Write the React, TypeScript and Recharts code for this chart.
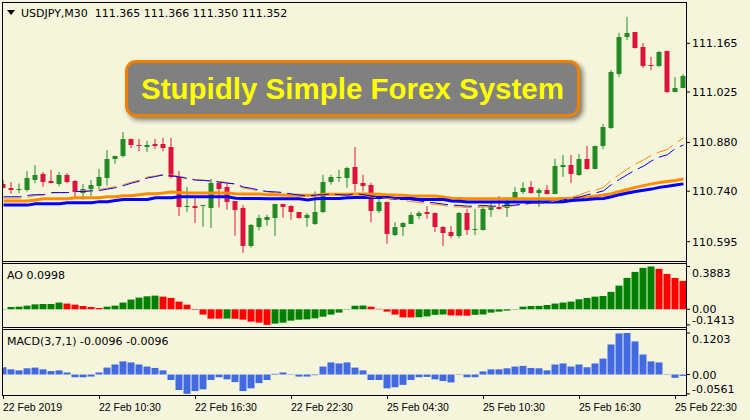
import React from "react";
import { ComposedChart, BarChart, Bar, Line, XAxis, YAxis, Cell } from "recharts";

/* ---------------- DATA ---------------- */

const candleOpen = [
  110.761, 110.750, 110.746, 110.744, 110.773, 110.789, 110.769, 110.762, 110.787, 110.769,
  110.734, 110.747, 110.756, 110.779, 110.831, 110.841, 110.890, 110.872, 110.867, 110.876,
  110.876, 110.867, 110.780, 110.697, 110.698, 110.698, 110.693, 110.764, 110.752, 110.712,
  110.692, 110.583, 110.638, 110.658, 110.664, 110.703, 110.697, 110.680, 110.664, 110.646,
  110.680, 110.767, 110.780, 110.778, 110.810, 110.764, 110.758, 110.683, 110.709, 110.614,
  110.637, 110.646, 110.669, 110.680, 110.677, 110.637, 110.623, 110.611, 110.677, 110.631,
  110.628, 110.686, 110.695, 110.692, 110.718, 110.738, 110.752, 110.735, 110.743, 110.732,
  110.810, 110.815, 110.787, 110.833, 110.804, 110.870, 110.922, 111.077, 111.183, 111.197,
  111.154, 111.104, 111.100, 111.143, 111.025, 111.037
];

const candleHigh = [
  110.772, 110.766, 110.762, 110.798, 110.815, 110.795, 110.801, 110.795, 110.792, 110.772,
  110.761, 110.772, 110.804, 110.858, 110.842, 110.910, 110.891, 110.890, 110.885, 110.890,
  110.893, 110.893, 110.798, 110.752, 110.720, 110.700, 110.775, 110.765, 110.762, 110.712,
  110.700, 110.646, 110.672, 110.672, 110.704, 110.704, 110.700, 110.681, 110.677, 110.739,
  110.787, 110.787, 110.801, 110.810, 110.867, 110.787, 110.764, 110.718, 110.710, 110.651,
  110.651, 110.679, 110.683, 110.697, 110.679, 110.640, 110.640, 110.680, 110.689, 110.689,
  110.697, 110.709, 110.726, 110.723, 110.752, 110.766, 110.769, 110.749, 110.758, 110.833,
  110.844, 110.844, 110.847, 110.870, 110.871, 110.933, 111.088, 111.195, 111.241, 111.198,
  111.166, 111.126, 111.143, 111.144, 111.068, 111.077
];

const candleLow = [
  110.748, 110.733, 110.734, 110.739, 110.763, 110.753, 110.762, 110.754, 110.763, 110.722,
  110.716, 110.727, 110.745, 110.756, 110.819, 110.837, 110.864, 110.855, 110.853, 110.861,
  110.855, 110.777, 110.669, 110.681, 110.649, 110.638, 110.634, 110.693, 110.687, 110.612,
  110.563, 110.578, 110.628, 110.641, 110.612, 110.664, 110.658, 110.661, 110.638, 110.643,
  110.677, 110.759, 110.767, 110.750, 110.739, 110.739, 110.651, 110.677, 110.589, 110.611,
  110.612, 110.645, 110.660, 110.661, 110.623, 110.583, 110.605, 110.605, 110.614, 110.614,
  110.627, 110.666, 110.687, 110.666, 110.706, 110.732, 110.732, 110.695, 110.730, 110.731,
  110.781, 110.764, 110.784, 110.802, 110.803, 110.861, 110.919, 111.068, 111.174, 111.150,
  111.094, 111.088, 111.097, 111.022, 111.024, 111.036
];

const candleClose = [
  110.750, 110.744, 110.747, 110.779, 110.787, 110.767, 110.764, 110.787, 110.766, 110.736,
  110.746, 110.758, 110.781, 110.833, 110.841, 110.890, 110.874, 110.871, 110.873, 110.870,
  110.864, 110.780, 110.695, 110.698, 110.693, 110.699, 110.764, 110.746, 110.710, 110.687,
  110.583, 110.643, 110.663, 110.666, 110.703, 110.693, 110.681, 110.663, 110.672, 110.680,
  110.766, 110.781, 110.781, 110.807, 110.761, 110.755, 110.683, 110.709, 110.617, 110.637,
  110.649, 110.672, 110.677, 110.674, 110.637, 110.620, 110.611, 110.677, 110.628, 110.632,
  110.689, 110.695, 110.689, 110.709, 110.738, 110.749, 110.735, 110.743, 110.732, 110.812,
  110.815, 110.789, 110.833, 110.804, 110.870, 110.924, 111.083, 111.183, 111.195, 111.151,
  111.100, 111.101, 111.140, 111.025, 111.037, 111.071
];

// slow moving averages (thick)
const slowBlue = [
  110.700, 110.700, 110.700, 110.700, 110.704, 110.704, 110.704, 110.704, 110.707, 110.707,
  110.707, 110.707, 110.710, 110.710, 110.713, 110.716, 110.716, 110.716, 110.716, 110.721,
  110.721, 110.721, 110.724, 110.724, 110.724, 110.724, 110.724, 110.724, 110.724, 110.720,
  110.719, 110.719, 110.719, 110.718, 110.718, 110.718, 110.718, 110.718, 110.715, 110.718,
  110.719, 110.719, 110.719, 110.721, 110.722, 110.722, 110.722, 110.722, 110.722, 110.719,
  110.719, 110.719, 110.716, 110.716, 110.716, 110.716, 110.712, 110.711, 110.709, 110.709,
  110.709, 110.709, 110.709, 110.709, 110.709, 110.709, 110.709, 110.709, 110.709, 110.709,
  110.710, 110.713, 110.715, 110.716, 110.718, 110.719, 110.724, 110.730, 110.735, 110.739,
  110.743, 110.746, 110.751, 110.754, 110.758, 110.761
];

const slowOrange = [
  110.712, 110.712, 110.712, 110.712, 110.715, 110.718, 110.718, 110.718, 110.718, 110.721,
  110.721, 110.721, 110.721, 110.724, 110.724, 110.727, 110.727, 110.730, 110.733, 110.733,
  110.735, 110.738, 110.736, 110.735, 110.735, 110.735, 110.735, 110.735, 110.735, 110.733,
  110.732, 110.732, 110.732, 110.730, 110.730, 110.729, 110.728, 110.728, 110.728, 110.728,
  110.731, 110.731, 110.731, 110.731, 110.732, 110.732, 110.732, 110.731, 110.729, 110.729,
  110.728, 110.726, 110.726, 110.726, 110.726, 110.723, 110.720, 110.719, 110.718, 110.718,
  110.718, 110.718, 110.718, 110.718, 110.718, 110.718, 110.718, 110.718, 110.718, 110.718,
  110.719, 110.720, 110.722, 110.723, 110.726, 110.729, 110.733, 110.739, 110.745, 110.751,
  110.756, 110.761, 110.765, 110.768, 110.771, 110.775
];

// fast moving averages (thin, broken)
const fastBlue = [
  110.724, 110.724, 110.724, 110.728, 110.730, 110.730, 110.736, 110.736, 110.736, 110.739,
  110.739, 110.741, 110.742, 110.746, 110.750, 110.756, 110.763, 110.769, 110.778, 110.782,
  110.787, 110.784, 110.781, 110.776, 110.772, 110.771, 110.769, 110.766, 110.763, 110.761,
  110.752, 110.748, 110.743, 110.739, 110.738, 110.736, 110.732, 110.729, 110.726, 110.729,
  110.730, 110.732, 110.730, 110.729, 110.733, 110.730, 110.726, 110.725, 110.723, 110.720,
  110.718, 110.715, 110.712, 110.709, 110.706, 110.703, 110.700, 110.699, 110.697, 110.697,
  110.699, 110.697, 110.697, 110.699, 110.700, 110.703, 110.706, 110.706, 110.706, 110.709,
  110.715, 110.719, 110.723, 110.730, 110.735, 110.741, 110.759, 110.774, 110.788, 110.801,
  110.812, 110.827, 110.838, 110.845, 110.863, 110.873
];

const fastOrange = [
  110.720, 110.720, 110.720, 110.723, 110.728, 110.729, 110.735, 110.736, 110.736, 110.739,
  110.741, 110.742, 110.745, 110.749, 110.753, 110.759, 110.766, 110.772, 110.781, 110.784,
  110.788, 110.787, 110.782, 110.778, 110.773, 110.772, 110.769, 110.768, 110.765, 110.759,
  110.749, 110.745, 110.741, 110.738, 110.735, 110.733, 110.729, 110.726, 110.725, 110.728,
  110.729, 110.730, 110.729, 110.728, 110.730, 110.728, 110.723, 110.722, 110.719, 110.718,
  110.713, 110.710, 110.707, 110.705, 110.702, 110.699, 110.695, 110.695, 110.693, 110.693,
  110.695, 110.695, 110.695, 110.696, 110.699, 110.702, 110.705, 110.706, 110.707, 110.712,
  110.718, 110.723, 110.729, 110.738, 110.743, 110.751, 110.772, 110.788, 110.804, 110.818,
  110.830, 110.843, 110.853, 110.860, 110.878, 110.893
];

// Awesome Oscillator
const aoValues = [
  0.003, 0.021, 0.024, 0.033, 0.045, 0.048, 0.048, 0.061, 0.052, 0.042,
  0.030, 0.021, 0.012, 0.024, 0.033, 0.061, 0.088, 0.106, 0.118, 0.124,
  0.115, 0.103, 0.070, 0.042, -0.005, -0.048, -0.085, -0.085, -0.084, -0.086,
  -0.094, -0.112, -0.121, -0.1413, -0.130, -0.121, -0.103, -0.094, -0.091, -0.082,
  -0.067, -0.048, -0.030, -0.003, 0.032, 0.034, 0.024, 0.004, -0.021, -0.048,
  -0.073, -0.074, -0.072, -0.064, -0.050, -0.047, -0.055, -0.057, -0.058, -0.050,
  -0.047, -0.030, -0.021, -0.012, 0.003, 0.024, 0.030, 0.031, 0.039, 0.052,
  0.061, 0.070, 0.091, 0.103, 0.115, 0.121, 0.158, 0.215, 0.285, 0.339,
  0.376, 0.3883, 0.367, 0.321, 0.285, 0.258
];

const aoColors = [
  "g", "g", "g", "g", "g", "g", "g", "g", "r", "r",
  "r", "r", "r", "g", "g", "g", "g", "g", "g", "g",
  "r", "r", "r", "r", "r", "r", "r", "r", "g", "r",
  "r", "r", "r", "r", "g", "g", "g", "g", "g", "g",
  "g", "g", "g", "g", "g", "g", "r", "r", "r", "r",
  "r", "r", "g", "g", "g", "g", "r", "r", "r", "g",
  "g", "g", "g", "g", "g", "g", "g", "g", "g", "g",
  "g", "g", "g", "g", "g", "g", "g", "g", "g", "g",
  "g", "g", "r", "r", "r", "r"
];

// MACD(3,7,1) histogram
const macdValues = [
  0.021, 0.015, 0.012, 0.018, 0.020, 0.015, 0.010, 0.012, 0.006, -0.008,
  -0.008, -0.006, 0.006, 0.020, 0.029, 0.038, 0.035, 0.029, 0.023, 0.019,
  0.012, -0.016, -0.045, -0.0561, -0.048, -0.043, -0.016, -0.008, -0.014, -0.022,
  -0.048, -0.040, -0.025, -0.016, 0.002, 0.006, 0.001, -0.006, -0.006, -0.002,
  0.023, 0.035, 0.032, 0.035, 0.020, 0.012, -0.016, -0.016, -0.040, -0.037,
  -0.030, -0.016, -0.008, -0.007, -0.014, -0.019, -0.023, -0.001, -0.008, -0.008,
  0.009, 0.015, 0.015, 0.018, 0.023, 0.025, 0.019, 0.018, 0.012, 0.029,
  0.032, 0.023, 0.029, 0.021, 0.032, 0.046, 0.087, 0.119, 0.1203, 0.096,
  0.058, 0.038, 0.035, 0.001, -0.0096, -0.004
];

const timeTicks = [0, 12, 24, 36, 48, 60, 72, 84];
const timeLabels = [
  "22 Feb 2019", "22 Feb 10:30", "22 Feb 16:30", "22 Feb 22:30",
  "25 Feb 04:30", "25 Feb 10:30", "25 Feb 16:30", "25 Feb 22:30"
];
const priceTicks = [110.595, 110.74, 110.88, 111.025, 111.165];
const aoTicks = [0.3883, 0, -0.1413];
const macdTicks = [0.1203, 0, -0.0561];

/* ---------------- LOOK ---------------- */

const BG = "#F5F5DC";
const UP = "#228B22";
const DOWN = "#DC143C";
const FONT = "'DejaVu Sans', Verdana, sans-serif";
const X_DOMAIN: [number, number] = [-0.1875, 85.3125];

const rows = candleOpen.map((o, i) => ({
  i,
  o,
  h: candleHigh[i],
  l: candleLow[i],
  c: candleClose[i],
  range: [candleLow[i], candleHigh[i]],
  slowBlue: slowBlue[i],
  slowOrange: slowOrange[i],
  fastBlue: fastBlue[i],
  fastOrange: fastOrange[i],
  ao: aoValues[i],
  macd: macdValues[i]
}));

function Candle(props: any) {
  const { x, y, width, height, payload } = props;
  const { o, h, l, c } = payload;
  const top = Math.min(y, y + height);
  const span = Math.abs(height);
  const k = h > l ? span / (h - l) : 0;
  const color = c >= o ? UP : DOWN;
  const bTop = top + (h - Math.max(o, c)) * k;
  const bBot = top + (h - Math.min(o, c)) * k;
  const cx = x + width / 2;
  return (
    <g>
      <line x1={cx} x2={cx} y1={top} y2={top + span} stroke={color} strokeWidth={1} />
      <rect
        x={x}
        y={Math.round(bTop)}
        width={width}
        height={Math.max(1, Math.round(bBot - bTop))}
        fill={color}
      />
    </g>
  );
}

function PriceTick({ x, y, payload }: any) {
  return (
    <text x={x} y={y} dy={4} fontFamily={FONT} fontSize={11} fill="#000">
      {payload.value.toFixed(3)}
    </text>
  );
}

function makeSideTick(ticks: number[]) {
  const hi = Math.max(...ticks);
  const lo = Math.min(...ticks);
  return function SideTick({ x, y, payload }: any) {
    const v = payload.value;
    const dy = v === hi ? 10 : v === lo ? -1 : 4;
    return (
      <text x={x} y={y} dy={dy} fontFamily={FONT} fontSize={11} fill="#000">
        {v === 0 ? "0.00" : v.toFixed(4)}
      </text>
    );
  };
}

const AoTick = makeSideTick(aoTicks);
const MacdTick = makeSideTick(macdTicks);

function TimeTick({ x, y, payload }: any) {
  const k = timeTicks.indexOf(payload.value);
  return (
    <text
      x={x - 0.5}
      y={y}
      dy={10}
      textAnchor="start"
      fontFamily="'Liberation Sans', Arial, sans-serif"
      fontSize={10.5}
      fill="#000"
    >
      {timeLabels[k]}
    </text>
  );
}

/* ---------------- COMPONENT ---------------- */

export default function App() {
  return (
    <div
      style={{
        position: "absolute",
        left: 0,
        top: 0,
        width: 750,
        height: 420,
        background: BG,
        overflow: "hidden"
      }}
    >
      {/* PRICE PANEL */}
      <div style={{ position: "absolute", left: 0, top: 0 }}>
        <ComposedChart
          width={750}
          height={263}
          data={rows}
          margin={{ top: 3, right: 0, bottom: 2, left: 2 }}
        >
          <XAxis type="number" dataKey="i" domain={X_DOMAIN} allowDataOverflow hide />
          <YAxis
            orientation="right"
            width={64}
            domain={[110.5394, 111.2808]}
            allowDataOverflow
            ticks={priceTicks}
            interval={0}
            tickSize={4}
            tickMargin={2}
            axisLine={false}
            tickLine={{ stroke: "#000" }}
            tick={PriceTick}
          />
          <Bar dataKey="range" barSize={5} shape={Candle} isAnimationActive={false} />
          <Line
            dataKey="slowOrange"
            stroke="#FF8C00"
            strokeWidth={3}
            dot={false}
            activeDot={false}
            isAnimationActive={false}
          />
          <Line
            dataKey="slowBlue"
            stroke="#0000FF"
            strokeWidth={3}
            dot={false}
            activeDot={false}
            isAnimationActive={false}
          />
          <Line
            dataKey="fastOrange"
            stroke="#FF8C00"
            strokeWidth={1}
            strokeDasharray="18 6"
            dot={false}
            activeDot={false}
            isAnimationActive={false}
          />
          <Line
            dataKey="fastBlue"
            stroke="#0000FF"
            strokeWidth={1}
            strokeDasharray="18 6"
            dot={false}
            activeDot={false}
            isAnimationActive={false}
          />
        </ComposedChart>
      </div>

      {/* AO PANEL */}
      <div style={{ position: "absolute", left: 0, top: 263 }}>
        <BarChart
          width={750}
          height={64}
          data={rows}
          margin={{ top: 1, right: 0, bottom: 1, left: 2 }}
        >
          <XAxis type="number" dataKey="i" domain={X_DOMAIN} allowDataOverflow hide />
          <YAxis
            orientation="right"
            width={64}
            domain={[-0.1515, 0.411]}
            allowDataOverflow
            ticks={aoTicks}
            interval={0}
            tickSize={4}
            tickMargin={2}
            axisLine={false}
            tickLine={{ stroke: "#000" }}
            tick={AoTick}
          />
          <Bar dataKey="ao" barSize={7} isAnimationActive={false}>
            {aoColors.map((col, i) => (
              <Cell key={i} fill={col === "g" ? "#008000" : "#FF0000"} />
            ))}
          </Bar>
        </BarChart>
      </div>

      {/* MACD PANEL */}
      <div style={{ position: "absolute", left: 0, top: 329 }}>
        <BarChart
          width={750}
          height={91}
          data={rows}
          margin={{ top: 1, right: 0, bottom: 0, left: 2 }}
        >
          <XAxis
            type="number"
            dataKey="i"
            domain={X_DOMAIN}
            allowDataOverflow
            ticks={timeTicks}
            interval={0}
            height={25}
            tickSize={4}
            tickMargin={2}
            axisLine={false}
            tickLine={{ stroke: "#000" }}
            tick={TimeTick}
          />
          <YAxis
            orientation="right"
            width={64}
            domain={[-0.0594, 0.129]}
            allowDataOverflow
            ticks={macdTicks}
            interval={0}
            tickSize={4}
            tickMargin={2}
            axisLine={false}
            tickLine={{ stroke: "#000" }}
            tick={MacdTick}
          />
          <Bar dataKey="macd" barSize={7} fill="#4169E1" isAnimationActive={false} />
        </BarChart>
      </div>

      {/* FRAMES AND LABELS */}
      <svg
        width={750}
        height={420}
        style={{ position: "absolute", left: 0, top: 0, pointerEvents: "none" }}
      >
        <g stroke="#000" strokeWidth={1} fill="none" shapeRendering="crispEdges">
          <line x1={2} x2={686} y1={2.5} y2={2.5} />
          <line x1={2.5} x2={2.5} y1={2} y2={396} />
          <line x1={686.5} x2={686.5} y1={2} y2={396} />
          <line x1={2} x2={687} y1={261.5} y2={261.5} />
          <line x1={2} x2={687} y1={263.5} y2={263.5} />
          <line x1={2} x2={687} y1={327.5} y2={327.5} />
          <line x1={2} x2={687} y1={329.5} y2={329.5} />
          <line x1={2} x2={687} y1={395.5} y2={395.5} />
        </g>
        <polygon points="7,10 15,10 11,15" fill="#000" />
        <text x={21} y={17} fontFamily={FONT} fontSize={11} fill="#000" style={{ whiteSpace: "pre" }}>
          {"USDJPY,M30  111.365 111.366 111.350 111.352"}
        </text>
        <text x={7} y={279} fontFamily={FONT} fontSize={11} fill="#000">
          AO 0.0998
        </text>
        <text x={7} y={344.5} fontFamily={FONT} fontSize={11} fill="#000">
          MACD(3,7,1) -0.0096 -0.0096
        </text>
      </svg>

      {/* TITLE BADGE */}
      <div
        style={{
          position: "absolute",
          left: 125,
          top: 60,
          width: 455,
          height: 57,
          boxSizing: "border-box",
          background: "#808080",
          border: "3px solid #F08000",
          borderRadius: 11,
          boxShadow: "3px 3px 5px rgba(0,0,0,0.5)",
          display: "flex",
          alignItems: "center",
          justifyContent: "center",
          color: "#FFFF00",
          fontFamily: "'Liberation Sans', Arial, sans-serif",
          fontWeight: "bold",
          fontSize: 29.5,
          whiteSpace: "nowrap"
        }}
      >
        Stupidly Simple Forex System
      </div>
    </div>
  );
}
